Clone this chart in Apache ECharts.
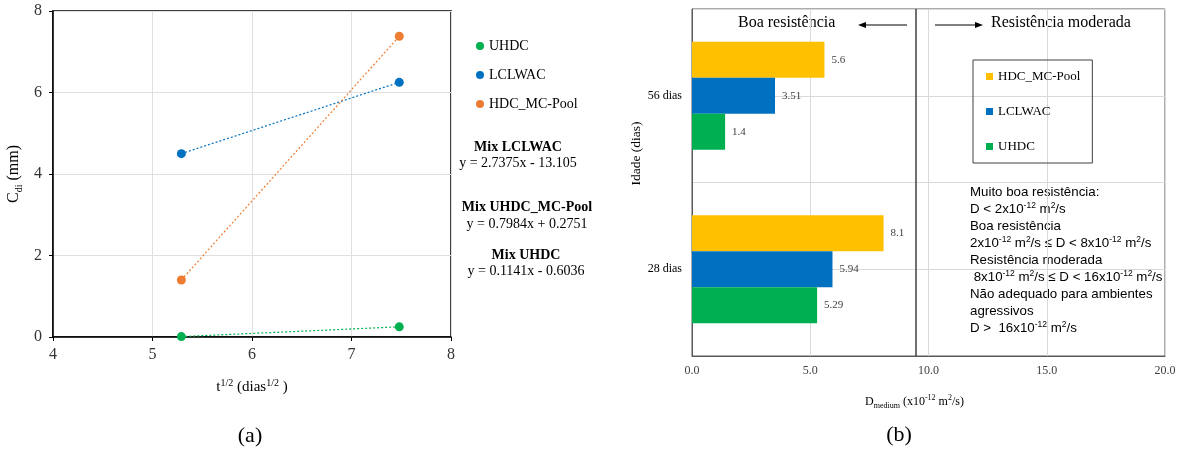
<!DOCTYPE html>
<html>
<head>
<meta charset="utf-8">
<script src="https://cdn.jsdelivr.net/npm/echarts@6/dist/echarts.min.js"></script>
<style>
  html, body { margin: 0; padding: 0; background: #fff; }
  #chart { width: 1182px; height: 452px; }
</style>
</head>
<body>
<div id="chart"></div>
<script>
// ---- (a) chloride penetration depth versus square root of time ----
const sqrtAge = [5.29, 7.48];              // t^1/2 (dias^1/2) for 28 and 56 dias
const cdiUHDC = [0.01, 0.25];
const cdiLCLWAC = [4.50, 6.25];
const cdiHDC = [1.40, 7.38];
const xTicksA = { min: 4, max: 8, step: 1 };
const yTicksA = { min: 0, max: 8, step: 2 };

// ---- (b) migration coefficient by age ----
const ages = ['28 dias', '56 dias'];
const dHDC = [8.1, 5.6];
const dLCLWAC = [5.94, 3.51];
const dUHDC = [5.29, 1.4];
const xTicksB = { min: 0, max: 20, step: 5 };
const zoneLimit = 9.45;                    // boundary line between the two resistance classes

const SERIF = "'Times New Roman', 'Liberation Serif', serif";
const SANS = "'Liberation Sans', Arial, sans-serif";
const GREEN = '#00B050', BLUE = '#0070C0', ORANGE = '#ED7D31', YELLOW = '#FFC000';

const pairs = (xs, ys) => xs.map((x, i) => [x, ys[i]]);

const chart = echarts.init(document.getElementById('chart'), null, { renderer: 'canvas' });

function lineSeries(name, color, ys) {
  return {
    name, type: 'line', xAxisIndex: 0, yAxisIndex: 0,
    data: pairs(sqrtAge, ys),
    symbol: 'circle', symbolSize: 9,
    itemStyle: { color },
    lineStyle: { color, width: 1.2, type: [2, 2] },
    z: 3
  };
}

function barSeries(name, color, values) {
  return {
    name, type: 'bar', xAxisIndex: 1, yAxisIndex: 1,
    data: values, barWidth: 36, barGap: '0%',
    itemStyle: { color },
    label: {
      show: true, position: 'right', distance: 7,
      fontFamily: SERIF, fontSize: 11, color: '#404040'
    },
    z: 3
  };
}

const boxLines = [
  '{t|Muito boa resistência:}',
  '{t|D < 2x10}{s|-12}{t| m}{s|2}{t|/s}',
  '{t|Boa resistência}',
  '{t|2x10}{s|-12}{t| m}{s|2}{t|/s ≤ D < 8x10}{s|-12}{t| m}{s|2}{t|/s}',
  '{t|Resistência moderada}',
  '{t| 8x10}{s|-12}{t| m}{s|2}{t|/s ≤ D < 16x10}{s|-12}{t| m}{s|2}{t|/s}',
  '{t|Não adequado para ambientes}',
  '{t|agressivos}',
  '{t|D >  16x10}{s|-12}{t| m}{s|2}{t|/s}'
];

const eqStyle = { fontFamily: SERIF, fontSize: 14, fill: '#000', align: 'center', verticalAlign: 'middle' };
const eqText = (x, y, text, bold) => ({
  type: 'text', x, y,
  style: Object.assign({}, eqStyle, { text, fontWeight: bold ? 'bold' : 'normal' })
});

const option = {
  backgroundColor: '#fff',
  animation: false,
  grid: [
    { left: 53, top: 11, width: 398, height: 326, show: true, borderColor: '#000', borderWidth: 1.5, containLabel: false },
    { left: 692, top: 9, width: 473, height: 347, show: true, borderColor: '#595959', borderWidth: 1, containLabel: false }
  ],
  legend: [
    {
      orient: 'vertical', left: 476, top: 39, padding: 0, itemGap: 15,
      icon: 'circle', itemWidth: 8, itemHeight: 8,
      textStyle: { fontFamily: SERIF, fontSize: 14, lineHeight: 14, color: '#000' },
      data: [
        { name: 'UHDC', itemStyle: { color: GREEN } },
        { name: 'LCLWAC', itemStyle: { color: BLUE } },
        { name: 'HDC_MC-Pool', itemStyle: { color: ORANGE } }
      ]
    },
    {
      orient: 'vertical', left: 973, top: 60, padding: [10, 12, 10, 13], itemGap: 22,
      borderColor: '#404040', borderWidth: 1,
      icon: 'rect', itemWidth: 7, itemHeight: 7,
      textStyle: { fontFamily: SERIF, fontSize: 13, lineHeight: 13, color: '#000' },
      data: [
        { name: 'HDC_MC-Pool', itemStyle: { color: YELLOW } },
        { name: 'LCLWAC', itemStyle: { color: BLUE } },
        { name: 'UHDC', itemStyle: { color: GREEN } }
      ]
    }
  ],
  xAxis: [
    {
      gridIndex: 0, type: 'value', min: xTicksA.min, max: xTicksA.max, interval: xTicksA.step,
      name: '{b|t}{p|1/2}{b| (dias}{p|1/2}{b| )}',
      nameLocation: 'middle', nameGap: 41,
      nameTextStyle: {
        fontFamily: SERIF, color: '#000',
        rich: {
          b: { fontFamily: SERIF, fontSize: 15, lineHeight: 18, color: '#000' },
          p: { fontFamily: SERIF, fontSize: 10, lineHeight: 10, verticalAlign: 'top', color: '#000' }
        }
      },
      axisLine: { show: true, lineStyle: { color: '#000', width: 1.5 } },
      axisTick: { show: true, length: 4, lineStyle: { color: '#000' } },
      axisLabel: { fontFamily: SERIF, fontSize: 16, color: '#333', margin: 10 },
      splitLine: { show: true, lineStyle: { color: '#e0e0e0' } }
    },
    {
      gridIndex: 1, type: 'value', min: xTicksB.min, max: xTicksB.max, interval: xTicksB.step,
      name: '{b|D}{sub|medium}{b| (x10}{p|-12}{b| m}{p|2}{b|/s)}',
      nameLocation: 'middle', nameGap: 38,
      nameTextStyle: {
        padding: [0, 28, 0, 0],
        rich: {
          b: { fontFamily: SERIF, fontSize: 12, lineHeight: 16, color: '#000' },
          p: { fontFamily: SERIF, fontSize: 8, lineHeight: 8, verticalAlign: 'top', color: '#000' },
          sub: { fontFamily: SERIF, fontSize: 8, lineHeight: 8, verticalAlign: 'bottom', color: '#000' }
        }
      },
      axisLine: { show: true, lineStyle: { color: '#595959' } },
      axisTick: { show: false },
      axisLabel: { fontFamily: SERIF, fontSize: 12, color: '#404040', margin: 9, formatter: v => v.toFixed(1) },
      splitLine: { show: true, lineStyle: { color: '#d9d9d9' } }
    }
  ],
  yAxis: [
    {
      gridIndex: 0, type: 'value', min: yTicksA.min, max: yTicksA.max, interval: yTicksA.step,
      name: '{b|C}{sub|di}{b| (mm)}',
      nameLocation: 'middle', nameGap: 29,
      nameTextStyle: {
        rich: {
          b: { fontFamily: SERIF, fontSize: 16, lineHeight: 20, color: '#000' },
          sub: { fontFamily: SERIF, fontSize: 10, lineHeight: 10, verticalAlign: 'bottom', color: '#000' }
        }
      },
      axisLine: { show: true, lineStyle: { color: '#000', width: 1.5 } },
      axisTick: { show: true, length: 4, lineStyle: { color: '#000' } },
      axisLabel: { fontFamily: SERIF, fontSize: 16, color: '#333', margin: 11 },
      splitLine: { show: true, lineStyle: { color: '#e0e0e0' } }
    },
    {
      gridIndex: 1, type: 'category', data: ages,
      name: 'Idade (dias)', nameLocation: 'middle', nameGap: 40,
      nameTextStyle: { fontFamily: SERIF, fontSize: 13.5, color: '#000', padding: [0, 0, 0, 58] },
      axisLine: { show: true, lineStyle: { color: '#595959' } },
      axisTick: { show: false },
      axisLabel: { fontFamily: SERIF, fontSize: 12, color: '#000', margin: 10 },
      splitLine: { show: false }
    },
    {
      // hidden helper scale: horizontal guides at band centres and band edges
      gridIndex: 1, type: 'value', min: 0, max: 4, interval: 1, position: 'right',
      axisLine: { show: false }, axisTick: { show: false }, axisLabel: { show: false },
      splitLine: { show: true, lineStyle: { color: '#d9d9d9' } }
    }
  ],
  series: [
    lineSeries('UHDC', GREEN, cdiUHDC),
    lineSeries('LCLWAC', BLUE, cdiLCLWAC),
    lineSeries('HDC_MC-Pool', ORANGE, cdiHDC),
    Object.assign(barSeries('HDC_MC-Pool', YELLOW, dHDC), {
      markLine: {
        silent: true, symbol: 'none', label: { show: false },
        lineStyle: { color: '#404040', width: 1.5, type: 'solid' },
        data: [{ xAxis: zoneLimit }]
      }
    }),
    barSeries('LCLWAC', BLUE, dLCLWAC),
    barSeries('UHDC', GREEN, dUHDC)
  ],
  graphic: [
    // regression notes beside panel (a)
    eqText(518, 147, 'Mix LCLWAC', true),
    eqText(518, 163, 'y = 2.7375x - 13.105', false),
    eqText(527, 207, 'Mix UHDC_MC-Pool', true),
    eqText(527, 224, 'y = 0.7984x + 0.2751', false),
    eqText(526, 255, 'Mix UHDC', true),
    eqText(526, 271, 'y = 0.1141x - 0.6036', false),
    // zone headings of panel (b)
    { type: 'text', x: 738, y: 23, style: { text: 'Boa resistência', fontFamily: SERIF, fontSize: 16, fill: '#000', verticalAlign: 'middle' } },
    { type: 'line', shape: { x1: 907, y1: 25, x2: 864, y2: 25 }, style: { stroke: '#000', lineWidth: 1 } },
    { type: 'polygon', shape: { points: [[858, 25], [866, 22], [866, 28]] }, style: { fill: '#000' } },
    { type: 'line', shape: { x1: 935, y1: 25, x2: 977, y2: 25 }, style: { stroke: '#000', lineWidth: 1 } },
    { type: 'polygon', shape: { points: [[983, 25], [975, 22], [975, 28]] }, style: { fill: '#000' } },
    { type: 'text', x: 991, y: 23, style: { text: 'Resistência moderada', fontFamily: SERIF, fontSize: 16, fill: '#000', verticalAlign: 'middle' } },
    // classification notes
    {
      type: 'text', x: 970, y: 184,
      style: {
        text: boxLines.join('\n'),
        fontFamily: SANS, fontSize: 13.3, lineHeight: 17, fill: '#000',
        rich: {
          t: { fontFamily: SANS, fontSize: 13.3, lineHeight: 17, color: '#000' },
          s: { fontFamily: SANS, fontSize: 8.5, lineHeight: 9, verticalAlign: 'top', color: '#000' }
        }
      }
    },
    // panel captions
    { type: 'text', x: 250, y: 436, style: { text: '(a)', fontFamily: SERIF, fontSize: 22, fill: '#000', align: 'center', verticalAlign: 'middle' } },
    { type: 'text', x: 899, y: 435, style: { text: '(b)', fontFamily: SERIF, fontSize: 22, fill: '#000', align: 'center', verticalAlign: 'middle' } }
  ]
};

chart.setOption(option);
</script>
</body>
</html>
